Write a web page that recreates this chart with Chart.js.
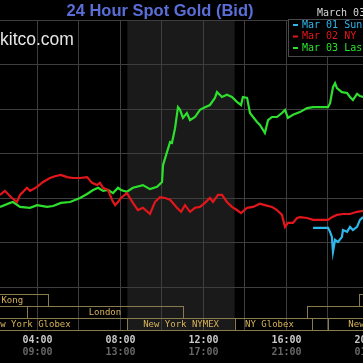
<!DOCTYPE html>
<html>
<head>
  <title>24 Hour Spot Gold (Bid)</title>
  <script src="https://cdn.jsdelivr.net/npm/chart.js"></script>
  <style>
    html, body {
      margin: 0;
      padding: 0;
      background: #000;
    }
    canvas {
      display: block;
    }
  </style>
</head>
<body>
<canvas id="goldChart" width="363" height="363"></canvas>

<script>
  // x = New York time in hours, y = bid in USD/oz
  const sunHours = [17.28, 18.00, 18.10, 18.19, 18.24, 18.34, 18.48, 18.67, 18.72, 18.92, 19.06, 19.20, 19.40, 19.54, 19.69];
  const sunPrices = [1603.3, 1603.3, 1602.4, 1601.2, 1597.9, 1600.6, 1600.1, 1601.2, 1602.8, 1602.4, 1603.5, 1602.8, 1603.5, 1605.1, 1605.7];

  const monHours = [2.19, 2.43, 2.77, 3.01, 3.16, 3.49, 3.64, 3.98, 4.27, 4.60, 4.84, 5.13, 5.42, 5.71, 6.05, 6.39, 6.63, 6.87, 7.01, 7.16,
    7.40, 7.59, 7.74, 7.88, 8.02, 8.31, 8.60, 8.84, 9.08, 9.42, 9.66, 9.90, 10.14, 10.39, 10.72, 10.92, 11.11, 11.35, 11.59, 11.83,
    12.07, 12.31, 12.46, 12.70, 12.89, 13.13, 13.37, 13.61, 13.81, 14.10, 14.39, 14.72, 14.96, 15.30, 15.54, 15.78, 15.93, 16.07, 16.31, 16.51,
    16.65, 16.99, 17.28, 18.00, 18.19, 18.43, 18.72, 19.06, 19.40, 19.69];
  const monPrices = [1610.7, 1611.6, 1610.0, 1609.1, 1610.7, 1612.3, 1611.6, 1612.5, 1613.6, 1614.5, 1614.9, 1615.2, 1614.7, 1614.5, 1614.5, 1614.7, 1613.4, 1612.9, 1613.4, 1612.3,
    1611.8, 1609.6, 1608.4, 1609.1, 1610.0, 1611.1, 1608.9, 1607.3, 1607.8, 1606.4, 1609.1, 1610.2, 1610.0, 1609.6, 1607.8, 1606.9, 1608.4, 1606.9, 1607.8, 1608.0,
    1608.9, 1610.0, 1609.1, 1610.7, 1610.7, 1609.1, 1608.0, 1607.3, 1606.6, 1607.8, 1608.0, 1608.7, 1608.4, 1608.0, 1607.3, 1606.2, 1603.5, 1604.4, 1604.4, 1605.5,
    1605.7, 1605.5, 1605.1, 1605.1, 1605.7, 1606.2, 1606.4, 1606.4, 1606.9, 1607.1];

  const tueHours = [2.19, 2.68, 2.82, 3.16, 3.64, 3.98, 4.46, 4.75, 5.13, 5.57, 6.05, 6.39, 6.68, 6.92, 7.16, 7.40, 7.64, 7.88, 8.02, 8.31,
    8.60, 9.08, 9.42, 9.76, 10.00, 10.05, 10.24, 10.39, 10.48, 10.63, 10.77, 10.87, 11.01, 11.20, 11.35, 11.59, 11.83, 12.07, 12.31, 12.55,
    12.65, 12.89, 13.13, 13.37, 13.61, 13.81, 13.90, 14.10, 14.24, 14.39, 14.58, 14.72, 14.96, 15.11, 15.30, 15.54, 15.78, 15.93, 16.07, 16.31,
    16.65, 16.99, 17.28, 18.00, 18.10, 18.24, 18.34, 18.43, 18.67, 18.92, 19.06, 19.20, 19.40, 19.54, 19.69];
  const tuePrices = [1608.0, 1608.9, 1609.1, 1608.0, 1607.8, 1608.4, 1608.0, 1608.2, 1608.9, 1609.1, 1610.0, 1610.9, 1611.8, 1612.3, 1611.6, 1611.8, 1611.1, 1612.3, 1611.8, 1611.4,
    1612.3, 1612.9, 1612.0, 1612.5, 1613.6, 1617.4, 1620.3, 1622.6, 1622.4, 1625.7, 1630.4, 1629.8, 1628.0, 1629.1, 1627.5, 1628.2, 1629.8, 1630.4, 1630.9, 1632.5,
    1633.8, 1632.7, 1633.2, 1632.7, 1631.6, 1630.9, 1632.7, 1632.5, 1629.1, 1628.2, 1627.1, 1626.4, 1624.6, 1627.5, 1628.2, 1628.2, 1629.1, 1629.8, 1628.0, 1628.7,
    1629.3, 1630.2, 1630.4, 1630.4, 1631.3, 1634.9, 1635.8, 1634.7, 1633.8, 1633.6, 1632.7, 1632.0, 1633.4, 1632.9, 1632.7];

  const gridHours = [4, 6, 8, 10, 12, 14, 16, 18];
  const gridPrices = [1590, 1600, 1610, 1620, 1630, 1640, 1650];
  const tickHours = [4, 8, 12, 16, 20];
  const nyLabels = ['04:00', '08:00', '12:00', '16:00', '20:00'];
  const gmtLabels = ['09:00', '13:00', '17:00', '21:00', '01:00'];
  const pitHours = [8.33, 13.5];

  const sessionNames = ['Hong Kong', 'Hong Kong', 'London', '', 'New York Globex', 'New York NYMEX', 'NY Globex', '', 'New York Globex'];
  const sessionRows = [0, 0, 1, 1, 2, 2, 2, 2, 2];
  const sessionStart = [-4.5, 19.5, 3.5, 17, -6, 8.33, 13.5, 17.25, 18];
  const sessionEnd = [4.5, 28.5, 11, 26, 8.33, 13.5, 17.25, 18, 41.25];
  const sessionLabelAt = [2.13, 24, 7.25, 22, 3.64, 10.92, 15.18, 17.6, 20.94];

  const legendNames = ['Mar 01 Sun', 'Mar 02 NY', 'Mar 03 Last'];
  const lineColors = ['#2fb6ea', '#e3161b', '#2ee02e'];

  const pts = (hs, ps) => hs.map((h, i) => ({ x: h, y: ps[i] }));

  const mono = "'DejaVu Sans Mono', monospace";

  const kitcoDecor = {
    id: 'kitcoDecor',
    beforeDraw(chart) {
      const { ctx, chartArea: a, scales: { x } } = chart;
      ctx.save();
      ctx.fillStyle = '#000';
      ctx.fillRect(0, 0, chart.width, chart.height);
      // NYMEX pit hours band, down through the session rows
      const x0 = x.getPixelForValue(pitHours[0]);
      const x1 = x.getPixelForValue(pitHours[1]);
      ctx.fillStyle = '#1a1a1a';
      ctx.fillRect(x0, a.top, x1 - x0, 330 - a.top);
      ctx.restore();
    },
    afterDraw(chart) {
      const { ctx, scales: { x } } = chart;
      ctx.save();

      // title and site name
      ctx.textBaseline = 'alphabetic';
      ctx.textAlign = 'center';
      ctx.fillStyle = '#5a6ed8';
      ctx.font = "bold 16.5px 'Liberation Sans', Arial, sans-serif";
      ctx.fillText('24 Hour Spot Gold (Bid)', 160, 16);

      ctx.textAlign = 'left';
      ctx.fillStyle = '#e6e6e6';
      ctx.font = "17.5px 'Liberation Sans', Arial, sans-serif";
      ctx.fillText('kitco.com', 0, 45);

      ctx.fillStyle = '#d8d8d8';
      ctx.font = '10px ' + mono;
      ctx.fillText('March 03', 317, 16);

      // legend box
      ctx.fillStyle = '#000';
      ctx.fillRect(288, 20, 80, 36);
      ctx.strokeStyle = '#4a4a4a';
      ctx.lineWidth = 1;
      ctx.strokeRect(288.5, 19.5, 80, 37);
      ctx.textBaseline = 'middle';
      legendNames.forEach((name, i) => {
        const y = 25 + i * 11.5;
        ctx.fillStyle = lineColors[i];
        ctx.fillRect(293, y - 1, 5, 2);
        ctx.fillText(name, 302, y);
      });

      // trading session boxes
      ctx.font = '9px ' + mono;
      ctx.textAlign = 'center';
      ctx.strokeStyle = '#8a7a50';
      sessionNames.forEach((name, i) => {
        const top = 294 + sessionRows[i] * 12;
        const l = Math.round(x.getPixelForValue(sessionStart[i])) + 0.5;
        const r = Math.round(x.getPixelForValue(sessionEnd[i])) + 0.5;
        ctx.strokeRect(l, top + 0.5, r - l, 12);
        if (name) {
          ctx.fillStyle = '#d8b45a';
          ctx.fillText(name, x.getPixelForValue(sessionLabelAt[i]), top + 7);
        }
      });

      // time labels: NY on top, GMT below
      ctx.font = 'bold 10px ' + mono;
      tickHours.forEach((h, i) => {
        const px = x.getPixelForValue(h);
        ctx.fillStyle = '#c8c8c8';
        ctx.fillText(nyLabels[i], px, 340);
        ctx.fillStyle = '#666';
        ctx.fillText(gmtLabels[i], px, 352.5);
      });

      ctx.restore();
    }
  };

  new Chart(document.getElementById('goldChart'), {
    type: 'line',
    data: {
      datasets: [
        { label: legendNames[1], data: pts(monHours, monPrices), borderColor: lineColors[1] },
        { label: legendNames[2], data: pts(tueHours, tuePrices), borderColor: lineColors[2] },
        { label: legendNames[0], data: pts(sunHours, sunPrices), borderColor: lineColors[0] }
      ]
    },
    options: {
      responsive: false,
      animation: false,
      layout: { padding: { top: 20, bottom: 33, left: 0, right: 0 } },
      elements: {
        line: { borderWidth: 2.2, tension: 0 },
        point: { radius: 0 }
      },
      scales: {
        x: {
          type: 'linear',
          min: 2.193,
          max: 19.687,
          afterBuildTicks: s => { s.ticks = gridHours.map(v => ({ value: v })); },
          afterFit: s => { s.height = 43; },
          ticks: { display: false },
          grid: { color: '#3e3e3e', drawTicks: true, tickLength: 43 },
          border: { display: false }
        },
        y: {
          min: 1590,
          max: 1650,
          afterBuildTicks: s => { s.ticks = gridPrices.map(v => ({ value: v })); },
          afterFit: s => { s.width = 0; },
          ticks: { display: false },
          grid: { color: '#3e3e3e', drawTicks: false },
          border: { display: false }
        }
      },
      plugins: {
        legend: { display: false },
        tooltip: { enabled: false }
      }
    },
    plugins: [kitcoDecor]
  });
</script>
</body>
</html>
